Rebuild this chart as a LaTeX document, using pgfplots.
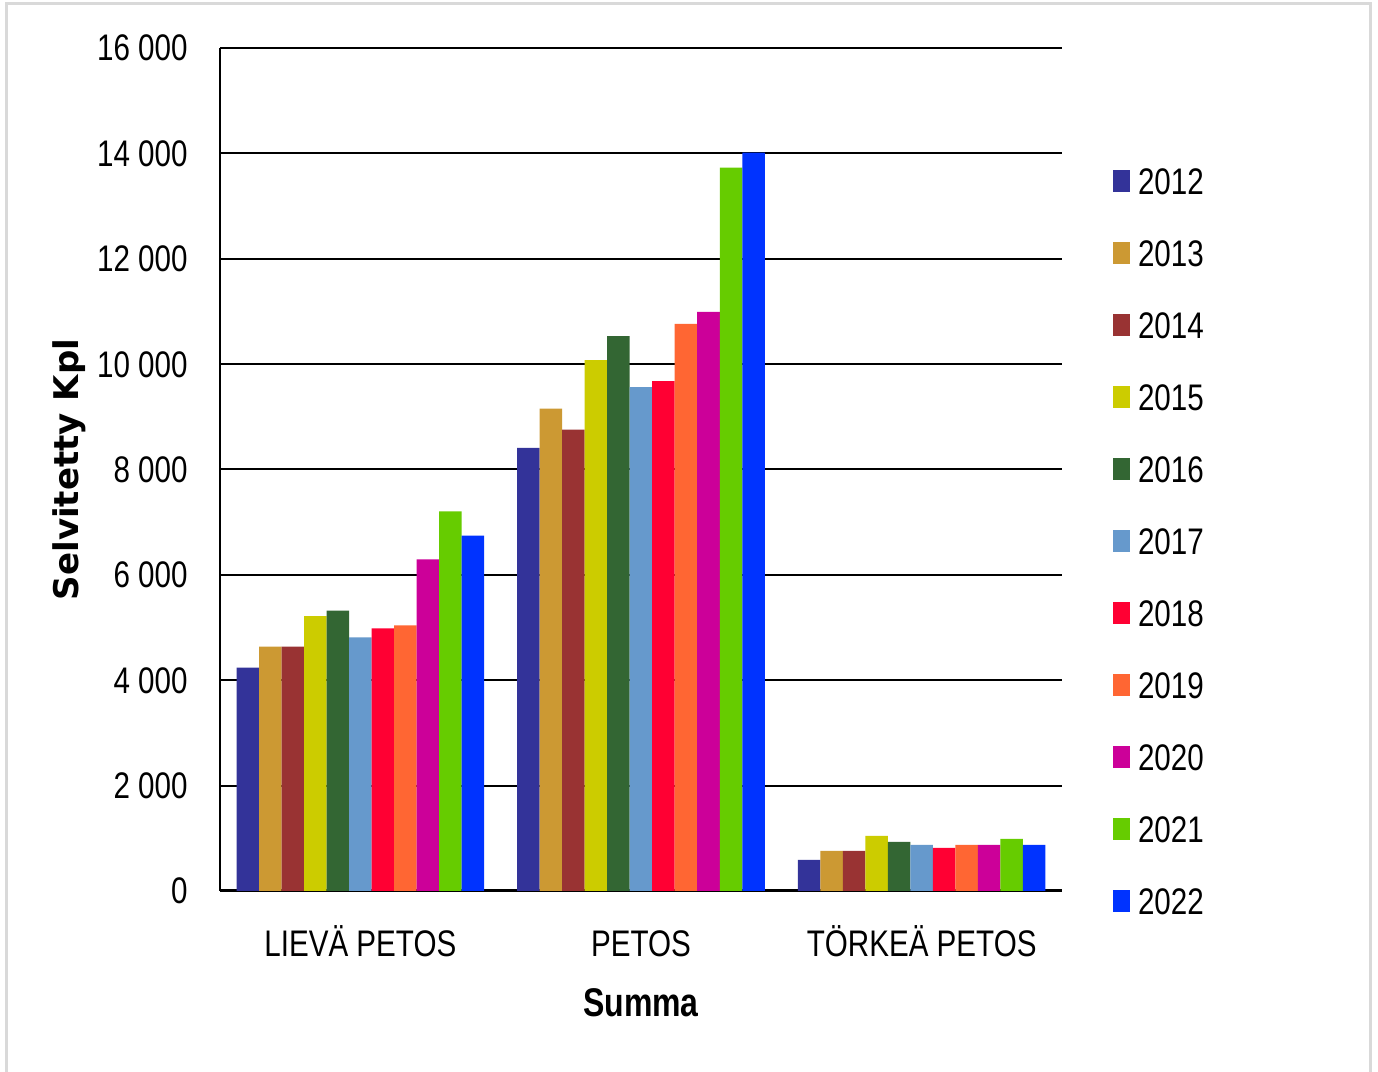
\documentclass[border=0pt]{standalone}
\usepackage{pgfplots}
\pgfplotsset{compat=1.18}
\usepackage{fontspec}
\setmainfont{Liberation Sans}[FakeStretch=0.8]
\newfontfamily\ylfont{DejaVu Sans}
\definecolor{c12}{HTML}{333399}
\definecolor{c13}{HTML}{CC9933}
\definecolor{c14}{HTML}{993333}
\definecolor{c15}{HTML}{CCCC00}
\definecolor{c16}{HTML}{336633}
\definecolor{c17}{HTML}{6699CC}
\definecolor{c18}{HTML}{FF0033}
\definecolor{c19}{HTML}{FF6633}
\definecolor{c20}{HTML}{CC0099}
\definecolor{c21}{HTML}{66CC00}
\definecolor{c22}{HTML}{0033FF}
\begin{document}
\begin{tikzpicture}
\useasboundingbox (0,0) rectangle (689pt,536pt);
\fill[white] (0,0) rectangle (689pt,536pt);
\draw[color=black!15, line width=1.5pt] (3pt,-2pt) -- (3pt,534pt) -- (685pt,534pt) -- (685pt,-2pt);
\begin{axis}[
  at={(110pt,90.5pt)}, anchor=south west,
  scale only axis, width=421pt, height=421.5pt,
  ybar=0pt, bar width=11.25pt,
  xmin=-0.5, xmax=2.5, ymin=0, ymax=16000,
  enlargelimits=false,
  xtick={0,1,2}, xticklabels={LIEVÄ PETOS, PETOS, TÖRKEÄ PETOS},
  ytick={0,2000,4000,6000,8000,10000,12000,14000,16000},
  scaled y ticks=false,
  axis x line=bottom, axis y line=left,
  x axis line style={-, line width=1.5pt, black},
  y axis line style={-, line width=1pt, black},
  major tick length=0pt,
  ymajorgrids, major grid style={black, line width=1pt},
  /pgf/number format/.cd, 1000 sep={\ }, assume math mode=true, /pgfplots/.cd,
  tick label style={font=\fontsize{18.5}{20}\selectfont},
  yticklabel style={anchor=east, inner sep=0pt, xshift=-16pt, text depth=0pt},
  xticklabel style={anchor=north, inner sep=0pt, text height=13.25pt, text depth=0pt, yshift=-19.5pt},
  xlabel={Summa},
  xlabel style={at={(axis description cs:0.5,-0.1329)}, anchor=center, inner sep=0pt, font=\fontsize{20}{22}\selectfont\bfseries},
  ylabel={Selvitetty Kpl},
  ylabel style={at={(axis description cs:-0.1793,0.5)}, anchor=center, inner sep=0pt, font=\ylfont\bfseries\fontsize{17}{20}\selectfont},
  legend style={at={(axis description cs:1.0606,0.8571)}, anchor=north west, draw=none, fill=none,
    inner sep=0pt, outer sep=0pt, row sep=22.75pt, column sep=4pt,
    nodes={inner sep=0pt, text height=13.25pt, text depth=0pt},
    font=\fontsize{18.5}{20}\selectfont},
  legend cell align=left,
  legend image code/.code={\fill[#1] (0pt,-5pt) rectangle (8.5pt,6pt);},
]
\addplot[fill=c12, draw=none] coordinates {(0,4240) (1,8410) (2,589)};
\addplot[fill=c13, draw=none] coordinates {(0,4637) (1,9156) (2,760)};
\addplot[fill=c14, draw=none] coordinates {(0,4637) (1,8757) (2,760)};
\addplot[fill=c15, draw=none] coordinates {(0,5219) (1,10074) (2,1045)};
\addplot[fill=c16, draw=none] coordinates {(0,5320) (1,10530) (2,931)};
\addplot[fill=c17, draw=none] coordinates {(0,4815) (1,9561) (2,874)};
\addplot[fill=c18, draw=none] coordinates {(0,4985) (1,9675) (2,817)};
\addplot[fill=c19, draw=none] coordinates {(0,5042) (1,10765) (2,874)};
\addplot[fill=c20, draw=none] coordinates {(0,6295) (1,10993) (2,874)};
\addplot[fill=c21, draw=none] coordinates {(0,7206) (1,13729) (2,988)};
\addplot[fill=c22, draw=none] coordinates {(0,6743) (1,14014) (2,874)};
\legend{2012,2013,2014,2015,2016,2017,2018,2019,2020,2021,2022}
\end{axis}
\end{tikzpicture}
\end{document}
